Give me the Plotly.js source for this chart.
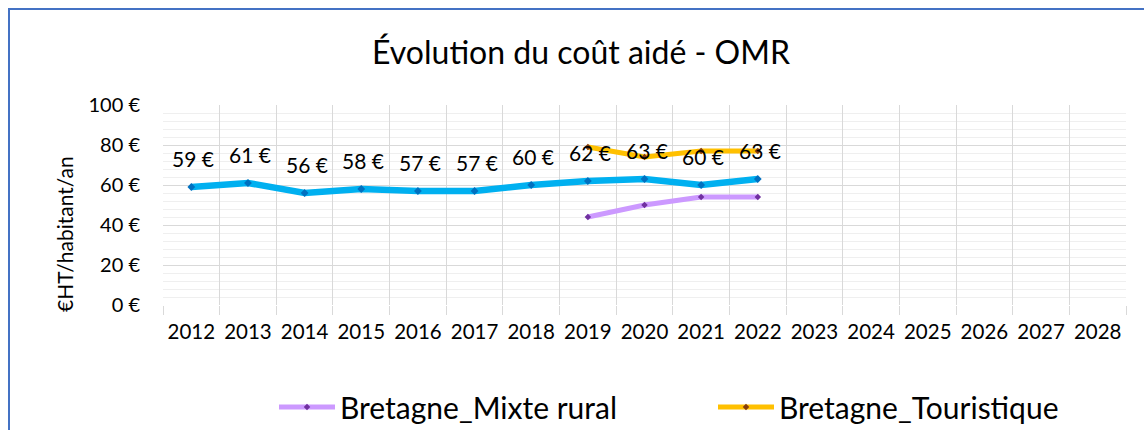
<!DOCTYPE html>
<html>
<head>
<meta charset="utf-8">
<script src="https://cdn.plot.ly/plotly-3.0.1.min.js"></script>
<style>
html,body{margin:0;padding:0;background:#fff;}
#wrap{position:relative;width:1144px;height:430px;overflow:hidden;}
#chart{width:1144px;height:430px;}
#frame{position:absolute;left:8px;top:8px;width:1200px;height:500px;border:2px solid #4472C4;pointer-events:none;box-sizing:border-box;}
</style>
</head>
<body>
<div id="wrap"><div id="chart"></div><div id="frame"></div></div>
<script>
var years = ["2012","2013","2014","2015","2016","2017","2018","2019","2020","2021","2022","2023","2024","2025","2026","2027","2028"];
var mainYears = ["2012","2013","2014","2015","2016","2017","2018","2019","2020","2021","2022"];
var mainValues = [59, 61, 56, 58, 57, 57, 60, 62, 63, 60, 63];
var subYears = ["2019","2020","2021","2022"];
var mixteRural = [44, 50, 54, 54];
var touristique = [79, 74, 77, 77];
var seriesNames = ["Bretagne", "Bretagne_Mixte rural", "Bretagne_Touristique"];
var yTitle = "€HT/habitant/an";

var FONT = "Lato, 'Open Sans', sans-serif";

var traces = [
  {x: mainYears, y: mainValues, name: seriesNames[0], mode: "lines+markers", showlegend: false,
   line: {color: "#00B0F0", width: 6.5}, marker: {symbol: "diamond", size: 6, color: "#0070C0"}},
  {x: subYears, y: mixteRural, name: seriesNames[1], mode: "lines+markers",
   line: {color: "#CC99FF", width: 5}, marker: {symbol: "diamond", size: 5, color: "#7030A0"}},
  {x: subYears, y: touristique, name: seriesNames[2], mode: "lines+markers",
   line: {color: "#FFC000", width: 5}, marker: {symbol: "diamond", size: 5, color: "#843C0C"}}
];

var annotations = mainYears.map(function(yr, i){
  return {x: years.indexOf(yr), y: mainValues[i], xref: "x", yref: "y", text: mainValues[i] + " €",
          showarrow: false, yshift: 29, xshift: 2,
          font: {family: FONT, size: 21, color: "#000"}};
});
annotations.push({text: yTitle, textangle: -90, showarrow: false,
  xref: "paper", yref: "paper", x: (64 - 163) / 963, y: (305 - 234) / 200, xanchor: "center", yanchor: "middle",
  font: {family: FONT, size: 21, color: "#000"}});

var layout = {
  width: 1144, height: 430,
  margin: {l: 163, r: 18, t: 105, b: 125},
  paper_bgcolor: "#fff", plot_bgcolor: "#fff",
  font: {family: FONT, color: "#000"},
  title: {text: "Évolution du coût aidé - OMR", font: {family: FONT, size: 32, color: "#000"},
          x: 581/1144, xref: "container", xanchor: "center", y: 1, yref: "container", yanchor: "top", pad: {t: 42}},
  xaxis: {type: "category", categoryorder: "array", categoryarray: years, range: [-0.5, 16.5],
          tickson: "boundaries", showgrid: true, gridcolor: "#d9d9d9", gridwidth: 1, tickangle: 0,
          ticks: "outside", ticklen: 9, tickcolor: "#d9d9d9", tickwidth: 1, ticklabelstandoff: 12,
          tickfont: {family: FONT, size: 20.5, color: "#000"}, showline: false, zeroline: false, fixedrange: true},
  yaxis: {range: [0, 100], dtick: 20, tick0: 0, ticksuffix: " €", showgrid: true, gridcolor: "#d9d9d9", gridwidth: 1,
          zeroline: false, showline: false, ticks: "", ticklabelstandoff: 22,
          minor: {dtick: 4, showgrid: true, gridcolor: "#efefef", gridwidth: 1},
          tickfont: {family: FONT, size: 20, color: "#000"}, fixedrange: true},
  legend: {orientation: "h", xref: "container", x: 274/1144, xanchor: "left", yref: "container", y: 23/430, yanchor: "middle",
           font: {family: FONT, size: 30, color: "#000"}, itemwidth: 56, entrywidth: 368, entrywidthmode: "pixels", bgcolor: "rgba(0,0,0,0)"},
  annotations: annotations,
  hovermode: false
};

Plotly.newPlot("chart", traces, layout, {displayModeBar: false, staticPlot: true});
</script>
</body>
</html>
